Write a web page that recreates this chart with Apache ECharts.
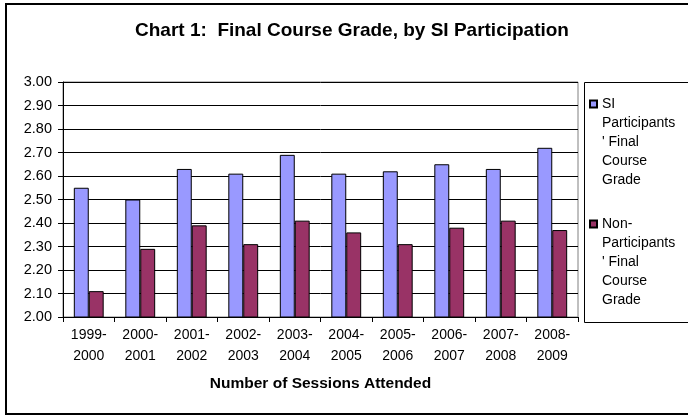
<!DOCTYPE html>
<html>
<head>
<meta charset="utf-8">
<script src="https://cdn.jsdelivr.net/npm/echarts@6/dist/echarts.min.js"></script>
<style>
  html, body { margin: 0; padding: 0; background: #fff; }
  #chart { width: 688px; height: 416px; }
</style>
</head>
<body>
<div id="chart"></div>
<script>
// 学年
const years = ['1999-\n2000', '2000-\n2001', '2001-\n2002', '2002-\n2003', '2003-\n2004',
               '2004-\n2005', '2005-\n2006', '2006-\n2007', '2007-\n2008', '2008-\n2009'];
// SI participants
const siGrades = [2.55, 2.50, 2.63, 2.61, 2.69, 2.61, 2.62, 2.65, 2.63, 2.72];
// non-participants
const nonGrades = [2.11, 2.29, 2.39, 2.31, 2.41, 2.36, 2.31, 2.38, 2.41, 2.37];
const seriesNames = ["SI\nParticipants\n' Final\nCourse\nGrade", "Non-\nParticipants\n' Final\nCourse\nGrade"];

const font = 'Arial, "Liberation Sans", sans-serif';
const chart = echarts.init(document.getElementById('chart'));

chart.setOption({
    animation: false,
    title: {
        text: 'Chart 1:  Final Course Grade, by SI Participation',
        left: 347,
        textAlign: 'center',
        top: 16,
        textStyle: { fontFamily: font, fontSize: 19, fontWeight: 'bold', color: '#000' }
    },
    grid: {
        left: 63,
        top: 82,
        right: 110,
        bottom: 99,
        show: true,
        borderColor: '#808080',
        borderWidth: 1
    },
    legend: {
        orient: 'vertical',
        left: 589,
        top: 18.5,
        itemWidth: 7,
        itemHeight: 7,
        itemGap: -51,
        padding: 0,
        icon: 'rect',
        // 前面补空行，让图标对齐第一行
        formatter: name => '\n\n\n\n' + name,
        textStyle: { fontFamily: font, fontSize: 14, color: '#000', lineHeight: 19 }
    },
    xAxis: {
        type: 'category',
        data: years,
        name: 'Number of Sessions Attended',
        nameLocation: 'middle',
        nameGap: 59,
        nameTextStyle: { fontFamily: font, fontSize: 15.5, fontWeight: 'bold', color: '#000' },
        axisLine: { lineStyle: { color: '#000' } },
        axisTick: { show: true, length: 5, lineStyle: { color: '#000' } },
        axisLabel: { fontFamily: font, fontSize: 14, color: '#000', lineHeight: 21, margin: 8, interval: 0 }
    },
    yAxis: {
        type: 'value',
        min: 2.0,
        max: 3.0,
        interval: 0.1,
        axisLine: { show: true, lineStyle: { color: '#000' } },
        axisTick: { show: true, length: 5, lineStyle: { color: '#000' } },
        splitLine: { lineStyle: { color: '#000', width: 1 } },
        axisLabel: {
            fontFamily: font, fontSize: 14.5, color: '#000', margin: 11,
            formatter: v => v.toFixed(2)
        }
    },
    series: [
        {
            name: seriesNames[0],
            type: 'bar',
            data: siGrades,
            barGap: '0%',
            barCategoryGap: '42%',
            itemStyle: { color: '#9999ff', borderColor: '#000', borderWidth: 1 }
        },
        {
            name: seriesNames[1],
            type: 'bar',
            data: nonGrades,
            itemStyle: { color: '#993366', borderColor: '#000', borderWidth: 1 }
        }
    ],
    graphic: [
        {
            type: 'rect',
            shape: { x: 6, y: 4, width: 700, height: 410 },
            style: { fill: null, stroke: '#000', lineWidth: 2 },
            silent: true
        },
        {
            type: 'rect',
            shape: { x: 584.5, y: 82.5, width: 120, height: 240 },
            style: { fill: null, stroke: '#000', lineWidth: 1 },
            silent: true
        }
    ]
});
</script>
</body>
</html>
